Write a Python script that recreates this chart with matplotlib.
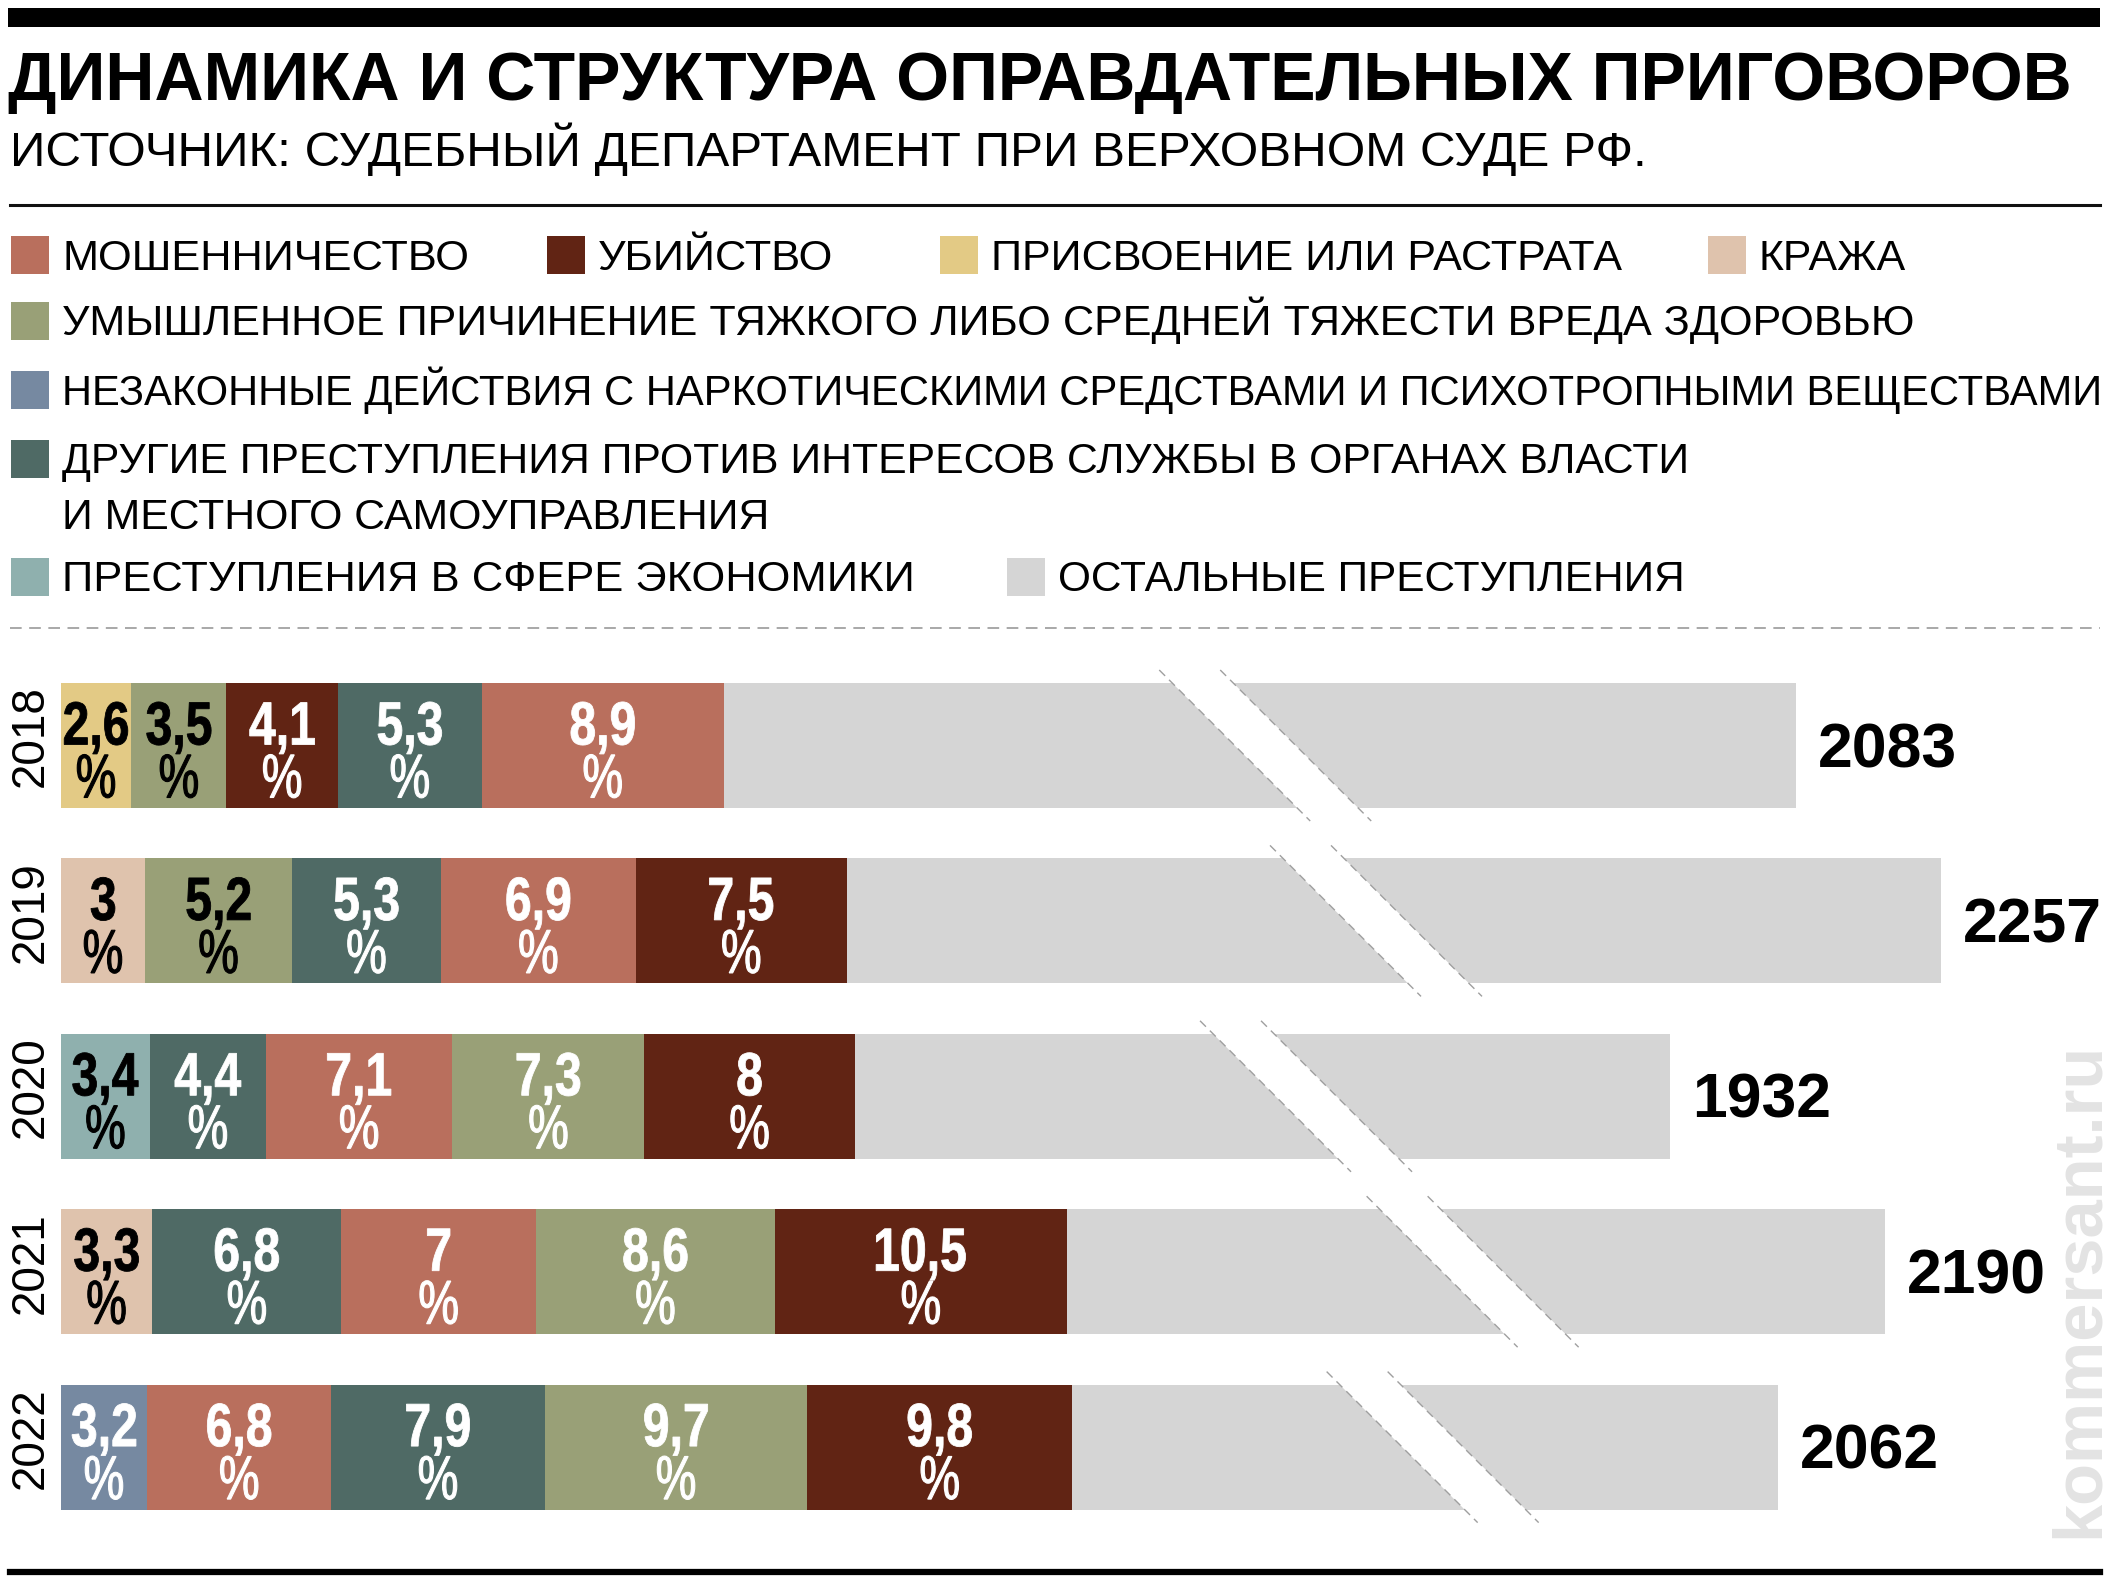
import matplotlib
matplotlib.use("Agg")
import matplotlib.pyplot as plt
import matplotlib.transforms as mtransforms
from matplotlib import font_manager
from matplotlib.font_manager import FontProperties
from matplotlib.patches import Rectangle, Polygon, PathPatch
from matplotlib.lines import Line2D
from matplotlib.textpath import TextPath

# ---- data -------------------------------------------------------------
title = "ДИНАМИКА И СТРУКТУРА ОПРАВДАТЕЛЬНЫХ ПРИГОВОРОВ"
subtitle = "ИСТОЧНИК: СУДЕБНЫЙ ДЕПАРТАМЕНТ ПРИ ВЕРХОВНОМ СУДЕ РФ."

cat_keys = ["fraud", "murder", "embezzle", "theft", "harm",
            "drugs", "office", "econ", "other"]
cat_labels = [
    "МОШЕННИЧЕСТВО",
    "УБИЙСТВО",
    "ПРИСВОЕНИЕ ИЛИ РАСТРАТА",
    "КРАЖА",
    "УМЫШЛЕННОЕ ПРИЧИНЕНИЕ ТЯЖКОГО ЛИБО СРЕДНЕЙ ТЯЖЕСТИ ВРЕДА ЗДОРОВЬЮ",
    "НЕЗАКОННЫЕ ДЕЙСТВИЯ С НАРКОТИЧЕСКИМИ СРЕДСТВАМИ И ПСИХОТРОПНЫМИ ВЕЩЕСТВАМИ",
    "ДРУГИЕ ПРЕСТУПЛЕНИЯ ПРОТИВ ИНТЕРЕСОВ СЛУЖБЫ В ОРГАНАХ ВЛАСТИ\nИ МЕСТНОГО САМОУПРАВЛЕНИЯ",
    "ПРЕСТУПЛЕНИЯ В СФЕРЕ ЭКОНОМИКИ",
    "ОСТАЛЬНЫЕ ПРЕСТУПЛЕНИЯ",
]
cat_colors = ["#b96f5d", "#612414", "#e3ca85", "#dfc3ad", "#99a077",
              "#7689a1", "#4f6a65", "#8fb0ae", "#d5d5d5"]

years = ["2018", "2019", "2020", "2021", "2022"]
totals = [2083, 2257, 1932, 2190, 2062]
seg_cats = [
    ["embezzle", "harm", "murder", "office", "fraud"],
    ["theft", "harm", "office", "fraud", "murder"],
    ["econ", "office", "fraud", "harm", "murder"],
    ["theft", "office", "fraud", "harm", "murder"],
    ["drugs", "fraud", "office", "harm", "murder"],
]
seg_pcts = [
    [2.6, 3.5, 4.1, 5.3, 8.9],
    [3.0, 5.2, 5.3, 6.9, 7.5],
    [3.4, 4.4, 7.1, 7.3, 8.0],
    [3.3, 6.8, 7.0, 8.6, 10.5],
    [3.2, 6.8, 7.9, 9.7, 9.8],
]

# ---- layout -----------------------------------------------------------
W, H = 2114, 1594
PX_PER_UNIT = 0.833          # px per case on the total scale
PCT_BASE, PCT_SLOPE = 18.09, 0.006974   # axis units drawn for 1 % of a bar
ROW_PX = 175.4
BAR_H_PX = 125
break_at = [1446, 1579, 1495, 1695, 1647]   # where the scale break sits
legend_pos = [(11, 255), (547, 255), (940, 255), (1708, 255), (11, 321),
              (11, 390), (11, 459), (11, 577), (1007, 577)]
legend_right = [469, 833, 1620, 1906, 1911, 2097, 1685, 911, 1684]

avail = {f.name for f in font_manager.fontManager.ttflist}
SANS = "Liberation Sans" if "Liberation Sans" in avail else "DejaVu Sans"


def fx(px):
    return px / W


def fy(py):
    return 1 - py / H


fig = plt.figure(figsize=(W / 100, H / 100), dpi=100)
fig.patch.set_facecolor("white")
renderer = fig.canvas.get_renderer()


def fit(t, width_px):
    w = t.get_window_extent(renderer).width
    t.set_fontsize(t.get_fontsize() * width_px / w)
    return t.get_fontsize()


def narrow_text(ax, x, y, s, size_px, color, weight="bold", squeeze=0.79,
                stroke=0.6, z=5):
    """Condensed label centred on x (data), baseline at y (data)."""
    path = TextPath((0, 0), s, size=size_px,
                    prop=FontProperties(family=SANS, weight=weight))
    ext = path.get_extents()
    mid = (ext.x0 + ext.x1) / 2
    tr = (mtransforms.Affine2D().translate(-mid, 0).scale(squeeze, 1)
          + mtransforms.ScaledTranslation(x, y, ax.transData))
    ax.add_artist(PathPatch(path, transform=tr, facecolor=color,
                            edgecolor=color, lw=stroke, zorder=z))


# rules
fig.add_artist(Rectangle((fx(8), fy(27)), fx(2100) - fx(8), fy(8) - fy(27),
                         transform=fig.transFigure, color="black", lw=0))
fig.add_artist(Line2D([fx(10), fx(2100)], [fy(205), fy(205)], color="#111111", lw=2.2))
fig.add_artist(Line2D([fx(10), fx(2100)], [fy(628), fy(628)], color="#9a9a9a",
                      lw=1.2, linestyle=(0, (7, 4.5))))
fig.add_artist(Line2D([fx(10), fx(2100)], [fy(1572), fy(1572)], color="black", lw=4.5))

# title
t = fig.text(fx(8), fy(100), title, fontsize=50, fontweight="bold", family=SANS,
             ha="left", va="baseline")
fit(t, 2064)
t = fig.text(fx(10), fy(166), subtitle, fontsize=35, family=SANS,
             ha="left", va="baseline")
fit(t, 1641)

# legend
for lab, col, (px, py), right in zip(cat_labels, cat_colors, legend_pos, legend_right):
    fig.add_artist(Rectangle((fx(px), fy(py + 19)), fx(38), 38 / H,
                             transform=fig.transFigure, color=col, lw=0))
    lines = lab.split("\n")
    t0 = fig.text(fx(px + 51), fy(py + 14.5), lines[0], fontsize=29,
                  family=SANS, ha="left", va="baseline")
    fs = fit(t0, right - (px + 51))
    for k, line in enumerate(lines[1:], start=1):
        fig.text(fx(px + 51), fy(py + 14.5 + 55.5 * k), line, fontsize=fs,
                 family=SANS, ha="left", va="baseline")

# bars
ax_top, ax_bot, ax_left = 650, 1560, 60.7
ax = fig.add_axes([fx(ax_left), fy(ax_bot), 1 - fx(ax_left), (ax_bot - ax_top) / H])
first_center = 745.5
ax.set_ylim((ax_bot - first_center) / ROW_PX, (ax_top - first_center) / ROW_PX)
ax.set_xlim(0, (W - ax_left) / PX_PER_UNIT)
ax.axis("off")

bar_h = BAR_H_PX / ROW_PX
col_of = dict(zip(cat_keys, cat_colors))
light = {"embezzle", "theft", "econ"}

for i, (yr, tot, cats, pcts) in enumerate(zip(years, totals, seg_cats, seg_pcts)):
    unit = PCT_BASE + PCT_SLOPE * tot
    left = 0.0
    for c, p in zip(cats, pcts):
        w = p * unit
        ax.barh(i, w, left=left, height=bar_h, color=col_of[c], lw=0, zorder=2)
        tc = "black" if (c in light or (c == "harm" and p < 6)) else "white"
        xc = left + w / 2
        narrow_text(ax, xc, i - 1 / ROW_PX, f"{p:g}".replace(".", ","), 61, tc)
        narrow_text(ax, xc, i + 52 / ROW_PX, "%", 62, tc, weight="normal",
                    squeeze=0.74, stroke=0.8)
        left += w
    ax.barh(i, tot - left, left=left, height=bar_h, color=col_of["other"], lw=0, zorder=2)

    # scale break
    ext = 13
    dy = (BAR_H_PX / 2 + ext) / ROW_PX
    dx = (BAR_H_PX / 2 + ext) / PX_PER_UNIT
    hw = 30.5 / PX_PER_UNIT
    c0 = break_at[i]
    ax.add_patch(Polygon([(c0 - dx - hw, i - dy), (c0 - dx + hw, i - dy),
                          (c0 + dx + hw, i + dy), (c0 + dx - hw, i + dy)],
                         closed=True, color="white", lw=0, zorder=3))
    for s in (-hw, hw):
        ax.plot([c0 - dx + s, c0 + dx + s], [i - dy, i + dy], color="#9f9f9f",
                lw=1.0, linestyle=(0, (6, 4)), zorder=4)

    ax.text(tot + 22 / PX_PER_UNIT, i + 21.5 / ROW_PX, str(tot), fontsize=45,
            fontweight="bold", family=SANS, ha="left", va="baseline", zorder=5)
    fig.text(fx(30.5), fy(first_center + i * ROW_PX - 9), yr, rotation=90,
             fontsize=33, family=SANS, ha="center", va="center")

# watermark
fig.text(fx(2080), fy(1290), "kommersant.ru", rotation=90, fontsize=49.5,
         fontweight="bold", family=SANS, color="#e3e3e3", ha="center", va="center")

fig.savefig("out.png", dpi=100, facecolor="white")
